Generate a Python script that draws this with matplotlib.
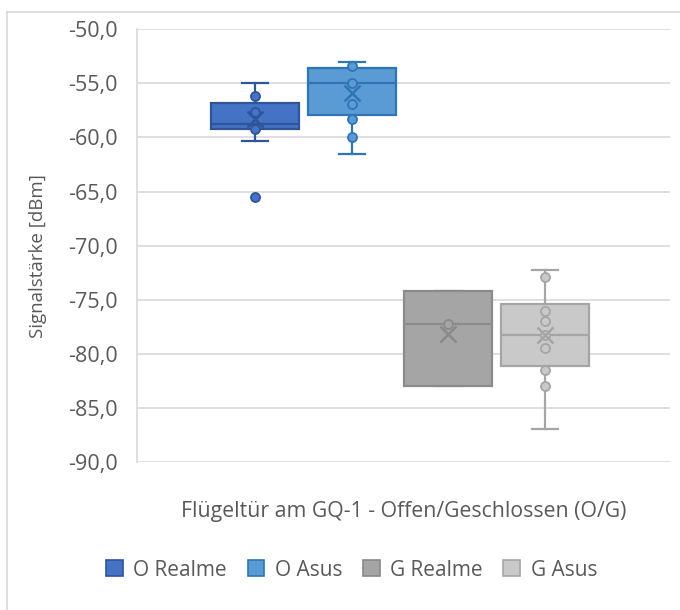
import matplotlib
matplotlib.use("Agg")
import matplotlib.pyplot as plt
from matplotlib.patches import Patch
from matplotlib.ticker import FuncFormatter
from matplotlib.lines import Line2D

plt.rcParams['font.family'] = ['Open Sans', 'DejaVu Sans']

# Series
series = ["O Realme", "O Asus", "G Realme", "G Asus"]
fills = ["#4472C4", "#5B9BD5", "#A5A5A5", "#C9C9C9"]
edges = ["#2F5597", "#2E75B6", "#8A8A8A", "#A5A5A5"]

# Box statistics (dBm)
q1 = [-59.25, -57.96, -83.0, -81.17]
median = [-58.8, -54.94, -77.23, -78.3]
q3 = [-56.8, -53.61, -74.2, -75.44]
whisker_low = [-60.3, -61.5, -83.0, -86.97]
whisker_high = [-55.0, -53.0, -74.2, -72.27]
mean = [-58.27, -55.92, -78.2, -78.3]

# Inner points and outliers
inner_points = [
    [-56.2, -57.6, -59.25],
    [-53.37, -54.94, -56.9, -58.27, -59.96],
    [-77.2],
    [-72.94, -76.06, -76.96, -78.3, -79.45, -81.45, -83.0],
]
outliers = [[-65.5], [], [], []]

yticks = [-90, -85, -80, -75, -70, -65, -60, -55, -50]
x_title = "Flügeltür am GQ-1 - Offen/Geschlossen (O/G)"
y_title = "Signalstärke [dBm]"

text_color = "#595959"
grid_color = "#D9D9D9"

fig = plt.figure(figsize=(6.8, 6.1), dpi=100)
ax = fig.add_axes([137 / 680, 1 - 462 / 610, (670 - 137) / 680, (462 - 29.3) / 610])

positions = list(range(len(series)))
stats = []
for i in range(len(series)):
    stats.append(dict(q1=q1[i], med=median[i], q3=q3[i],
                      whislo=whisker_low[i], whishi=whisker_high[i],
                      mean=mean[i], fliers=[]))

bp = ax.bxp(stats, positions=positions, widths=0.91, patch_artist=True,
            showmeans=False, showfliers=False, capwidths=0.27)

for i in range(len(series)):
    box = bp['boxes'][i]
    box.set_facecolor(fills[i])
    box.set_edgecolor(edges[i])
    box.set_linewidth(1.6)
    box.set_zorder(3)
    bp['medians'][i].set_color(edges[i])
    bp['medians'][i].set_linewidth(1.6)
    bp['medians'][i].set_zorder(4)
    for w in bp['whiskers'][2 * i:2 * i + 2]:
        w.set_color(edges[i]); w.set_linewidth(1.6); w.set_zorder(2)
    for c in bp['caps'][2 * i:2 * i + 2]:
        c.set_color(edges[i]); c.set_linewidth(1.6); c.set_zorder(2)

    pts = inner_points[i] + outliers[i]
    ax.plot([positions[i]] * len(pts), pts, linestyle='none', marker='o',
            markersize=6.5, markerfacecolor=fills[i], markeredgecolor=edges[i],
            markeredgewidth=1.3, zorder=5)
    ax.plot([positions[i]], [mean[i]], linestyle='none', marker='x',
            markersize=11, markeredgecolor=edges[i], markeredgewidth=1.8,
            zorder=6)

ax.set_xlim(-1.22, 4.29)
ax.set_ylim(-90, -50)
ax.set_yticks(yticks)
ax.yaxis.set_major_formatter(FuncFormatter(lambda v, p: f"{v:.1f}".replace('.', ',')))
ax.set_xticks([])
ax.tick_params(axis='y', length=0, pad=14, labelsize=15.5, labelcolor=text_color)
ax.grid(axis='y', color=grid_color, linewidth=1.2, zorder=0)
ax.set_axisbelow(True)
for s in ['top', 'right', 'bottom']:
    ax.spines[s].set_visible(False)
ax.spines['left'].set_color(grid_color)
ax.spines['left'].set_linewidth(1.2)

fig.text(404 / 680, 1 - 511 / 610, x_title, ha='center', va='center',
         fontsize=15.3, color=text_color)
fig.text(38 / 680, 1 - 256 / 610, y_title, ha='center', va='center',
         rotation=90, fontsize=13.5, color=text_color)

handles = [Patch(facecolor=fills[i], edgecolor=edges[i], linewidth=1.2)
           for i in range(len(series))]
fig.legend(handles, series, loc='center', bbox_to_anchor=(351.5 / 680, 1 - 570 / 610),
           ncol=4, frameon=False, fontsize=15, labelcolor=text_color,
           handlelength=0.8, handleheight=0.8, handletextpad=0.5, columnspacing=1.0)

# Chart frame
fig.add_artist(Line2D([7 / 680, 7 / 680], [0, 1 - 12 / 610], color=grid_color,
                      linewidth=1.2, transform=fig.transFigure))
fig.add_artist(Line2D([7 / 680, 1], [1 - 12 / 610, 1 - 12 / 610], color=grid_color,
                      linewidth=1.2, transform=fig.transFigure))

fig.savefig("out.png", dpi=100)
